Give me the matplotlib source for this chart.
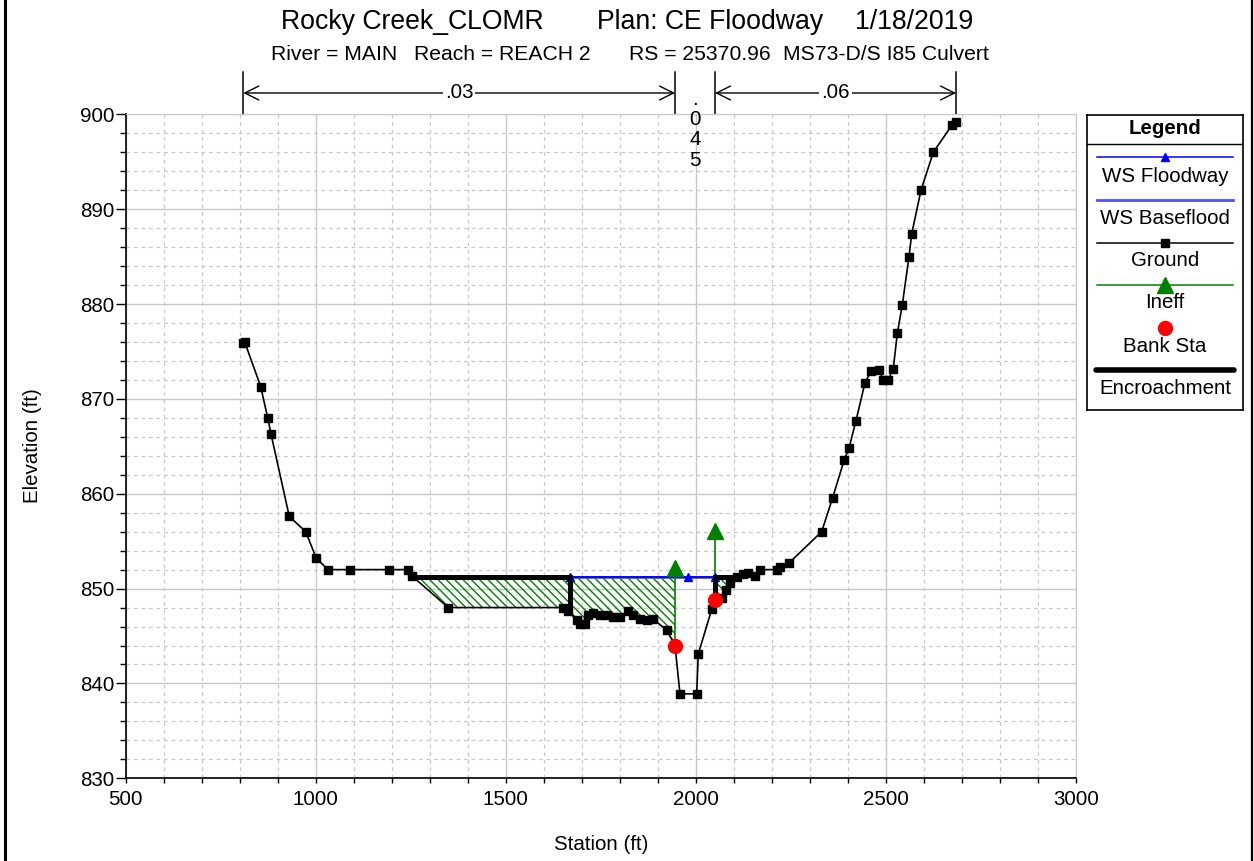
import numpy as np
import matplotlib
matplotlib.use("Agg")
import matplotlib.pyplot as plt
from matplotlib.transforms import blended_transform_factory
from matplotlib.lines import Line2D

# ---------------- data ----------------
ground_sta = [809.8, 813.5, 855.6, 874.0, 882.7, 930.8, 974.0, 1001.8, 1032.6, 1090.5,
              1193.8, 1243.8, 1254.3, 1349.0, 1649.9, 1664.6, 1686.7, 1695.4, 1708.5,
              1717.2, 1730.4, 1748.0, 1765.6, 1783.0, 1800.6, 1822.4, 1835.6, 1853.2,
              1870.9, 1888.2, 1923.5, 1945.3, 1958.4, 2002.3, 2006.5, 2041.8, 2050.5,
              2068.1, 2079.4, 2089.9, 2107.5, 2124.9, 2138.1, 2155.7, 2168.9, 2212.8,
              2221.5, 2245.2, 2331.1, 2360.1, 2390.6, 2402.9, 2421.3, 2445.0, 2460.8,
              2482.6, 2493.1, 2506.3, 2519.4, 2530.0, 2543.1, 2560.8, 2567.9, 2592.3,
              2624.7, 2674.6, 2684.4]
ground_elev = [875.9, 876.0, 871.3, 868.0, 866.3, 857.6, 856.0, 853.2, 852.0, 852.0,
               852.0, 852.0, 851.3, 848.0, 848.0, 847.6, 846.7, 846.3, 846.3,
               847.2, 847.4, 847.2, 847.2, 847.0, 847.0, 847.6, 847.2, 846.8,
               846.7, 846.8, 845.6, 844.0, 838.9, 838.9, 843.1, 847.8, 848.8,
               849.0, 849.9, 850.6, 851.2, 851.5, 851.6, 851.3, 852.0, 852.0,
               852.3, 852.7, 856.0, 859.6, 863.6, 864.8, 867.7, 871.7, 872.9,
               873.0, 872.0, 872.0, 873.2, 876.9, 879.9, 885.0, 887.4, 892.0,
               896.0, 898.9, 899.2]

ws_elev = 851.2                       # WS Floodway / Baseflood
ws_marker_sta = [1669.1, 1979.5, 2050.5]
encroach_left_sta = 1669.1
encroach_right_sta = 2050.5
water_left_sta = 1254.3
water_right_sta = 2107.5

bank_sta = [1945.3, 2050.5]
bank_elev = [844.0, 848.8]

ineff_sta = [1945.3, 2050.5]
ineff_elev = [852.2, 856.1]

n_breaks = [809.8, 1945.3, 2050.5, 2684.4]
n_values = [".03", ".045", ".06"]

xticks = [500, 1000, 1500, 2000, 2500, 3000]
yticks = [830, 840, 850, 860, 870, 880, 890, 900]

title_parts = ["Rocky Creek_CLOMR", "Plan: CE Floodway", "1/18/2019"]
sub_parts = ["River = MAIN", "Reach = REACH 2", "RS = 25370.96", "MS73-D/S I85 Culvert"]
legend_labels = ["WS Floodway", "WS Baseflood", "Ground", "Ineff", "Bank Sta", "Encroachment"]

# ---------------- style ----------------
plt.rcParams['font.family'] = ['Liberation Sans', 'DejaVu Sans']
plt.rcParams['hatch.linewidth'] = 1.0
plt.rcParams['hatch.color'] = '#008000'

W, H = 1254, 861
fig = plt.figure(figsize=(W / 100, H / 100), dpi=100)

def fx(px):
    return px / W

def fy(py):
    return 1 - py / H

ax_l, ax_r, ax_t, ax_b = 125.5, 1076, 114.3, 778.3
ax = fig.add_axes([fx(ax_l), fy(ax_b), fx(ax_r - ax_l), (ax_b - ax_t) / H])
ax.set_xlim(500, 3000)
ax.set_ylim(830, 900)
ax.set_xticks(xticks)
ax.set_yticks(yticks)
ax.set_xticks(np.arange(500, 3001, 100), minor=True)
ax.set_yticks(np.arange(830, 901, 2), minor=True)
ax.grid(which='major', color='#c8c8c8', lw=1.0, ls='-')
ax.grid(which='minor', color='#c8c8c8', lw=0.9, ls=(0, (3, 3)))
ax.set_axisbelow(True)
for s in ['top', 'right']:
    ax.spines[s].set_color('#c8c8c8')
for s in ['left', 'bottom']:
    ax.spines[s].set_color('black')
    ax.spines[s].set_linewidth(1.2)
ax.tick_params(axis='x', which='both', direction='out', length=3.6, width=1, labelsize=14.8, pad=5)
ax.tick_params(axis='y', which='major', direction='out', length=7, width=1, labelsize=14.8, pad=1)
ax.tick_params(axis='y', which='minor', direction='out', length=4.3, width=1)

gs = np.array(ground_sta)
ge = np.array(ground_elev)

# hatched ineffective areas
def hatch_region(a, b):
    inside = (gs > a) & (gs < b)
    xs = np.concatenate([[a], gs[inside], [b]])
    ys = np.interp(xs, gs, ge)
    ys = np.minimum(ys, ws_elev)
    ax.fill_between(xs, ys, ws_elev, facecolor='none', edgecolor='#008000',
                    hatch='\\\\\\\\', linewidth=0, zorder=2)

hatch_region(water_left_sta, ineff_sta[0])
hatch_region(ineff_sta[1], water_right_sta)

# ineffective markers + stems
for s, e in zip(ineff_sta, ineff_elev):
    g = np.interp(s, gs, ge)
    ax.plot([s, s], [g, e], color='#008000', lw=1.2, zorder=3)
ax.plot(ineff_sta, ineff_elev, ls='none', marker='^', ms=11, color='#008000', zorder=6)

# ground
ax.plot(gs, ge, color='black', lw=1.2, marker='s', ms=5.5, zorder=4)

# WS baseflood (under) and floodway
ax.plot([encroach_left_sta, encroach_right_sta], [ws_elev, ws_elev], color='#5050ff', lw=2, zorder=3)
ax.plot([encroach_left_sta, encroach_right_sta], [ws_elev, ws_elev], color='#0000ff', lw=1.3, zorder=5)
ax.plot(ws_marker_sta, [ws_elev] * len(ws_marker_sta), ls='none', marker='^', ms=5.5,
        color='#0000ff', zorder=5)

# encroachments
gl = np.interp(encroach_left_sta, gs, ge)
gr = np.interp(encroach_right_sta, gs, ge)
ax.plot([water_left_sta, encroach_left_sta, encroach_left_sta], [ws_elev, ws_elev, gl],
        color='black', lw=3.6, solid_capstyle='butt', solid_joinstyle='miter', zorder=6)
ax.plot([encroach_right_sta, encroach_right_sta, water_right_sta], [gr, ws_elev, ws_elev],
        color='black', lw=3.6, solid_capstyle='butt', solid_joinstyle='miter', zorder=6)

# bank stations
ax.plot(bank_sta, bank_elev, ls='none', marker='o', ms=10, color='red', zorder=7)

# Manning's n bars above the plot
tr = blended_transform_factory(ax.transData, fig.transFigure)
for s in n_breaks:
    ax.plot([s, s], [fy(ax_t), fy(72)], color='black', lw=1.1, transform=tr, clip_on=False)
y_arrow = fy(93)
for i, lab in enumerate(n_values):
    a, b = n_breaks[i], n_breaks[i + 1]
    mid = (a + b) / 2
    if len(lab) <= 3:
        ax.annotate('', xy=(b, y_arrow), xytext=(a, y_arrow), xycoords=tr, textcoords=tr,
                    arrowprops=dict(arrowstyle='<->,head_length=0.5,head_width=0.25',
                                    color='black', lw=1.0, shrinkA=0, shrinkB=0,
                                    mutation_scale=20), annotation_clip=False)
        ax.text(mid, y_arrow, lab, transform=tr, ha='center', va='center', fontsize=14.8,
                bbox=dict(facecolor='white', edgecolor='none', pad=1.5), zorder=10, clip_on=False)
    else:
        ax.text(mid, fy(90), "\n".join(lab), transform=tr, ha='center', va='top',
                fontsize=14.8, linespacing=1.08, clip_on=False)

# titles
title_x = [281, 597, 855]
for t, x in zip(title_parts, title_x):
    fig.text(fx(x), fy(22), t, ha='left', va='center', fontsize=19.2)
sub_x = [271, 414, 629, 783]
for t, x in zip(sub_parts, sub_x):
    fig.text(fx(x), fy(55), t, ha='left', va='center', fontsize=15.2)

# axis labels
fig.text(fx(600.7), fy(844), "Station (ft)", ha='center', va='center', fontsize=14.8)
fig.text(fx(32), fy(446), "Elevation (ft)", ha='center', va='center', fontsize=14.8, rotation=90)

# legend box
lx0, ly0, lw_, lh_ = 1087, 115, 156, 295
lax = fig.add_axes([fx(lx0), fy(ly0 + lh_), fx(lw_), lh_ / H])
lax.set_xlim(0, lw_)
lax.set_ylim(lh_, 0)
lax.set_xticks([])
lax.set_yticks([])
for s in lax.spines.values():
    s.set_color('black')
    s.set_linewidth(1.2)
lax.text(lw_ / 2, 13, "Legend", ha='center', va='center', fontsize=14.8, fontweight='bold')
lax.plot([0, lw_], [29, 29], color='black', lw=1)
line_y = [42, 85, 128, 170, 213, 255]
text_y = [61, 103, 146, 188, 231, 273]
cx = lw_ / 2
x0, x1 = 10, 146
lax.plot([x0, x1], [line_y[0]] * 2, color='#0000ff', lw=1.1)
lax.plot([cx], [line_y[0]], marker='^', ms=6, color='#0000ff')
lax.plot([x0, x1], [line_y[1]] * 2, color='#5050ff', lw=2)
lax.plot([x0, x1], [line_y[2]] * 2, color='black', lw=1.1)
lax.plot([cx], [line_y[2]], marker='s', ms=5.5, color='black')
lax.plot([x0, x1], [line_y[3]] * 2, color='#008000', lw=1.1)
lax.plot([cx], [line_y[3]], marker='^', ms=11, color='#008000')
lax.plot([cx], [line_y[4]], marker='o', ms=10, color='red')
lax.plot([x0 - 1, x1 + 1], [line_y[5]] * 2, color='black', lw=4, solid_capstyle='round')
for lab, ty in zip(legend_labels, text_y):
    lax.text(cx, ty, lab, ha='center', va='center', fontsize=14.8)

# window frame edges
fig.add_artist(Line2D([fx(4.5), fx(4.5)], [0, 1], color='black', lw=2.2))
fig.add_artist(Line2D([fx(1252), fx(1252)], [0, 1], color='black', lw=1.6))

fig.savefig("out.png", dpi=100)
